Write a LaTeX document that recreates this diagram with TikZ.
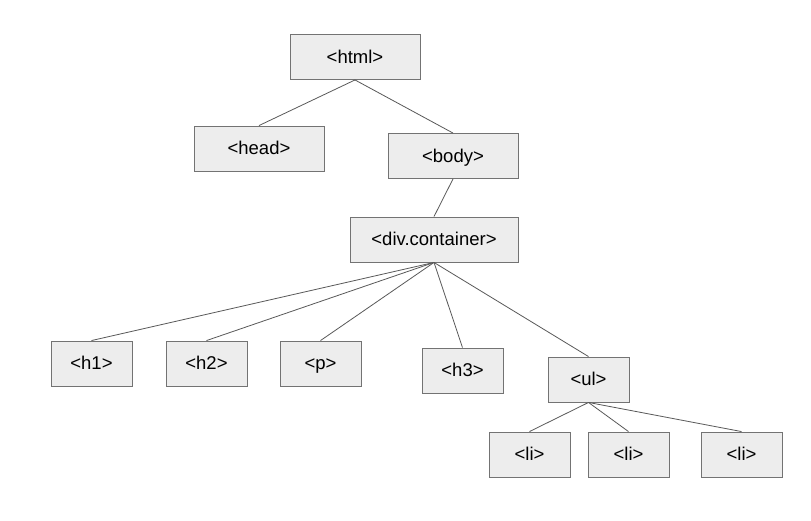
\documentclass[tikz,border=0pt]{standalone}
\usepackage{fontspec}
\setmainfont{Liberation Sans}
\begin{document}
\begin{tikzpicture}[x=1pt,y=-1pt,
  tag/.style={draw=black!55,fill=black!7,line width=0.9pt,minimum height=45pt,inner sep=0pt,text height=13pt,text depth=1pt,font=\fontsize{18.5}{22}\selectfont},
  wide/.style={tag,minimum width=130pt},
  small/.style={tag,minimum width=81pt},
  link/.style={draw=black!65,line width=0.8pt}]
\useasboundingbox[fill=white] (0,0) rectangle (811,520);
\node[wide] (html) at (355,57) {<html>};
\node[wide] (head) at (259,148.5) {<head>};
\node[wide] (body) at (453,156) {<body>};
\node[tag,minimum width=168pt] (div) at (434,239.5) {<div.container>};
\node[small] (h1) at (91.5,363.5) {<h1>};
\node[small] (h2) at (206.5,363.5) {<h2>};
\node[small] (p) at (320.5,363.5) {<p>};
\node[small] (h3) at (462.5,370.5) {<h3>};
\node[small] (ul) at (588.5,379.5) {<ul>};
\node[small] (li1) at (529.5,454.5) {<li>};
\node[small] (li2) at (628.5,454.5) {<li>};
\node[small] (li3) at (741.5,454.5) {<li>};
\foreach \c in {head,body} \draw[link] (html.south) -- (\c.north);
\draw[link] (body.south) -- (div.north);
\foreach \c in {h1,h2,p,h3,ul} \draw[link] (div.south) -- (\c.north);
\foreach \c in {li1,li2,li3} \draw[link] (ul.south) -- (\c.north);
\end{tikzpicture}
\end{document}
